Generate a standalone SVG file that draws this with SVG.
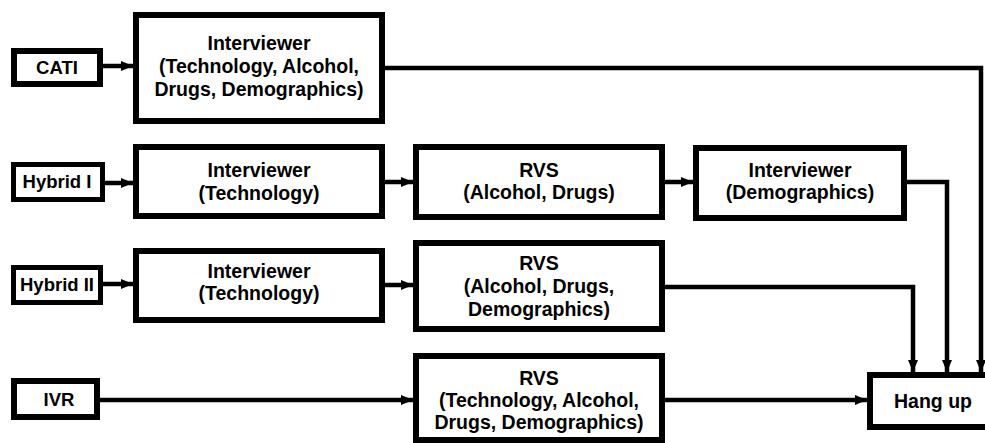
<svg xmlns="http://www.w3.org/2000/svg" width="985" height="443" viewBox="0 0 985 443">
<style>
.box{fill:#fff;stroke:#000;stroke-width:6}
.sbox{fill:#fff;stroke:#000;stroke-width:5}
.t{font-family:"Liberation Sans",Arial,Helvetica,sans-serif;font-weight:bold;font-size:19.5px;fill:#000;text-anchor:middle}
.s{font-size:18.5px}
.c{fill:none;stroke:#000;stroke-width:4.5;marker-end:url(#ah)}
</style>
<defs>
<marker id="ah" markerUnits="userSpaceOnUse" markerWidth="13" markerHeight="13" viewBox="0 0 13 13" refX="12" refY="6.5" orient="auto">
<path d="M0,1.5 L12,6.5 L0,11.5 Z" fill="#000"/>
</marker>
</defs>
<rect width="985" height="443" fill="#fff"/>
<g id="connectors">
<path class="c" d="M103 66 H133"/>
<path class="c" d="M385 68 H981 V372"/>
<path class="c" d="M105 183 H133"/>
<path class="c" d="M385 182 H413"/>
<path class="c" d="M665 182 H693"/>
<path class="c" d="M907 182 H947 V372"/>
<path class="c" d="M103 284 H133"/>
<path class="c" d="M385 285 H413"/>
<path class="c" d="M665 287 H913 V372"/>
<path class="c" d="M100 400 H413"/>
<path class="c" d="M665 400 H867"/>
</g>
<g id="cati">
<rect class="box" x="14" y="51" width="86" height="33"/>
<text class="t s" x="57" y="74">CATI</text>
</g>
<g id="cati-interviewer">
<rect class="box" x="136" y="15" width="246" height="106"/>
<text class="t" x="259" y="50">Interviewer</text>
<text class="t" x="259" y="73">(Technology, Alcohol,</text>
<text class="t" x="259" y="96">Drugs, Demographics)</text>
</g>
<g id="hybrid1">
<rect class="sbox" x="13.5" y="164.5" width="89" height="35"/>
<text class="t s" x="57" y="188">Hybrid I</text>
</g>
<g id="hybrid1-interviewer">
<rect class="box" x="136" y="147" width="246" height="69"/>
<text class="t" x="259" y="177">Interviewer</text>
<text class="t" x="259" y="200">(Technology)</text>
</g>
<g id="hybrid1-rvs">
<rect class="box" x="416" y="147" width="246" height="70"/>
<text class="t" x="539" y="177">RVS</text>
<text class="t" x="539" y="199">(Alcohol, Drugs)</text>
</g>
<g id="hybrid1-interviewer2">
<rect class="box" x="696" y="148" width="208" height="70"/>
<text class="t" x="800" y="177">Interviewer</text>
<text class="t" x="800" y="199">(Demographics)</text>
</g>
<g id="hybrid2">
<rect class="sbox" x="13.5" y="267.5" width="87" height="35"/>
<text class="t s" x="57" y="291">Hybrid II</text>
</g>
<g id="hybrid2-interviewer">
<rect class="box" x="136" y="251" width="246" height="69"/>
<text class="t" x="259" y="278">Interviewer</text>
<text class="t" x="259" y="300">(Technology)</text>
</g>
<g id="hybrid2-rvs">
<rect class="box" x="416" y="243" width="246" height="86"/>
<text class="t" x="539" y="270">RVS</text>
<text class="t" x="539" y="293">(Alcohol, Drugs,</text>
<text class="t" x="539" y="316">Demographics)</text>
</g>
<g id="ivr">
<rect class="box" x="14" y="381" width="83" height="36"/>
<text class="t s" x="59" y="406">IVR</text>
</g>
<g id="ivr-rvs">
<rect class="box" x="416" y="356" width="246" height="84"/>
<text class="t" x="539" y="385">RVS</text>
<text class="t" x="539" y="407">(Technology, Alcohol,</text>
<text class="t" x="539" y="429">Drugs, Demographics)</text>
</g>
<g id="hangup">
<rect class="box" x="870" y="375" width="130" height="52"/>
<text class="t" x="933" y="408">Hang up</text>
</g>
</svg>
